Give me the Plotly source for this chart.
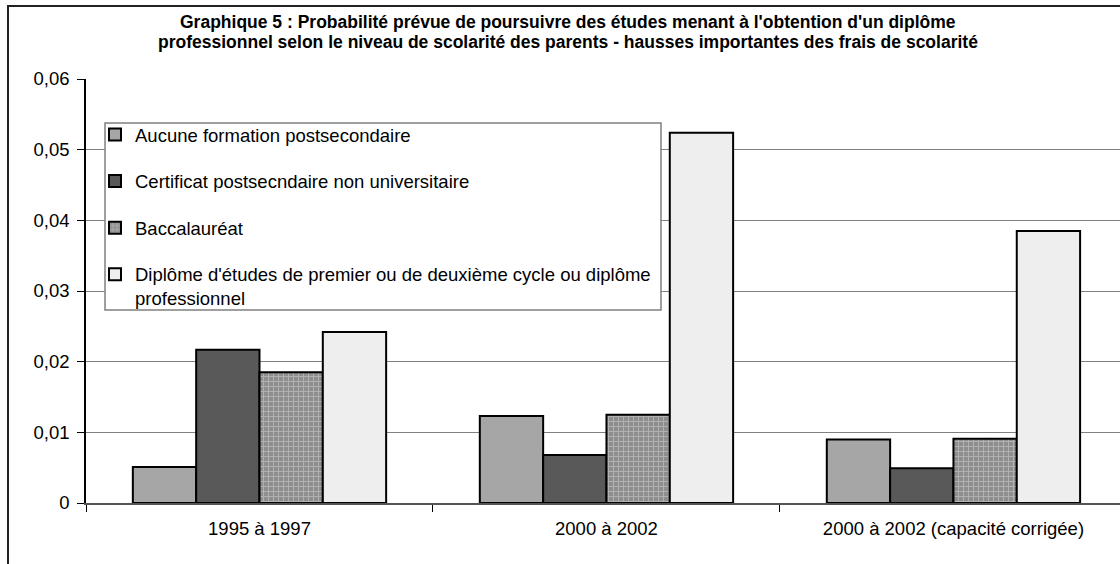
import plotly.graph_objects as go

categories = ["1995 à 1997", "2000 à 2002", "2000 à 2002 (capacité corrigée)"]
series_names = [
    "Aucune formation postsecondaire",
    "Certificat postsecndaire non universitaire",
    "Baccalauréat",
    "Diplôme d'études de premier ou de deuxième cycle ou diplôme<br>professionnel",
]
aucune = [0.0051, 0.0123, 0.0090]
certificat = [0.0217, 0.0068, 0.0049]
baccalaureat = [0.0185, 0.0125, 0.0091]
diplome = [0.0242, 0.0524, 0.0385]
title_lines = [
    "Graphique 5 : Probabilité prévue de poursuivre des études menant à l'obtention d'un diplôme",
    "professionnel selon le niveau de scolarité des parents - hausses importantes des frais de scolarité",
]
y_ticks = [0, 0.01, 0.02, 0.03, 0.04, 0.05, 0.06]

FONT = "Liberation Sans, Arial, sans-serif"
W, H = 1120, 564
ML, MR, MT, MB = 86, 0, 79, 61
PW, PH = W - ML - MR, H - MT - MB


def px_x(x):
    return (x - ML) / PW


def px_y(y):
    return (H - MB - y) / PH


fig = go.Figure()
values = [aucune, certificat, baccalaureat, diplome]
colors = ["#a6a6a6", "#595959", "#8e8e8e", "#eeeeee"]
for i, (name, vals, col) in enumerate(zip(series_names, values, colors)):
    marker = dict(color=col, line=dict(color="#000000", width=2))
    if i == 2:
        marker["pattern"] = dict(shape="+", fgcolor="#d6d6d6", size=5, solidity=0.35, fillmode="overlay")
    fig.add_trace(go.Bar(x=categories, y=vals, name=name, marker=marker,
                         legendgroup=f"g{i}"))

# outer chart border
fig.add_shape(type="rect", xref="paper", yref="paper",
              x0=px_x(8), x1=px_x(1135), y0=px_y(575), y1=px_y(6),
              line=dict(color="#222222", width=2), fillcolor="rgba(0,0,0,0)", layer="above")
# legend box
fig.add_shape(type="rect", xref="paper", yref="paper",
              x0=px_x(105), x1=px_x(661), y0=px_y(310), y1=px_y(123),
              line=dict(color="#808080", width=1.5), fillcolor="#ffffff", layer="above")

for k, (line, yy) in enumerate(zip(title_lines, [22, 42])):
    fig.add_annotation(text=f"<b>{line}</b>", xref="paper", yref="paper",
                       x=px_x(568), y=px_y(yy), xanchor="center", yanchor="middle",
                       showarrow=False, font=dict(family=FONT, size=17.5, color="#000000"))

fig.update_layout(
    width=W, height=H,
    margin=dict(l=ML, r=MR, t=MT, b=MB, pad=0),
    paper_bgcolor="#ffffff", plot_bgcolor="#ffffff",
    barmode="group", bargap=0.27, bargroupgap=0,
    separators=",.",
    font=dict(family=FONT, size=18, color="#000000"),
    showlegend=True,
    legend=dict(x=px_x(95), y=px_y(116), xanchor="left", yanchor="top",
                bgcolor="rgba(0,0,0,0)", borderwidth=0, valign="top",
                traceorder="grouped", tracegroupgap=19.5,
                font=dict(family=FONT, size=18.5, color="#000000")),
)
fig.update_xaxes(range=[-0.5, 2.48], tickson="boundaries", ticks="outside", ticklen=7,
                 tickcolor="#000000", showline=True, linecolor="#555555", linewidth=1.5,
                 showgrid=False, tickfont=dict(size=18.5), ticklabelstandoff=8, fixedrange=True)
fig.update_yaxes(range=[0, 0.06], tickvals=y_ticks, tickformat=".2~f", ticks="outside",
                 ticklen=7, tickcolor="#000000", showline=True, linecolor="#000000",
                 linewidth=1.5, showgrid=True, gridcolor="#808080", gridwidth=1,
                 zeroline=False, tickfont=dict(size=18.5), ticklabelstandoff=4, fixedrange=True)

fig.write_html("out.html", config={"displayModeBar": False},
               post_script="document.body.style.margin='0';document.body.style.overflow='hidden';")
